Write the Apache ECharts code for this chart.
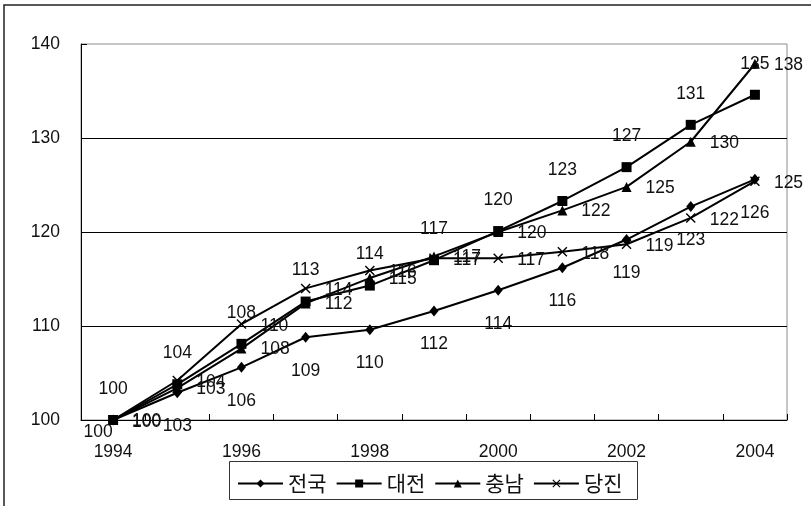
<!DOCTYPE html>
<html>
<head>
<meta charset="utf-8">
<script src="https://cdn.jsdelivr.net/npm/echarts@6/dist/echarts.min.js"></script>
<style>
  html, body { margin: 0; padding: 0; background: #fff; }
  #chart { width: 811px; height: 506px; }
</style>
</head>
<body>
<div id="chart"></div>
<script>
// Index values (1994 = 100)
const years = ['1994', '1995', '1996', '1997', '1998', '1999', '2000', '2001', '2002', '2003', '2004'];
const jeonguk  = [100, 102.9, 105.6, 108.8, 109.6, 111.6, 113.8, 116.2, 119.2, 122.7, 125.6];
const daejeon  = [100, 103.8, 108.1, 112.6, 114.3, 117.0, 120.1, 123.3, 126.9, 131.4, 134.6];
const chungnam = [100, 103.4, 107.6, 112.4, 115.1, 117.4, 120.0, 122.3, 124.8, 129.6, 137.9];
const dangjin  = [100, 104.2, 110.2, 114.0, 115.9, 117.2, 117.2, 117.9, 118.7, 121.5, 125.4];
const names = ['전국', '대전', '충남', '당진'];
const yMin = 100, yMax = 140, yStep = 10;

const digitFont = '"Liberation Sans", Arial, sans-serif';
const hangulFont = '"Noto Sans CJK KR", sans-serif';
const ink = '#111';

// thin filled cross used as the "x" marker
const crossPath = 'path://M0,1L1,0L5,4L9,0L10,1L6,5L10,9L9,10L5,6L1,10L0,9L4,5Z';

function labelStyle(position, distance, offset) {
  return {
    show: true,
    position: position,
    distance: distance,
    offset: offset || [0, 0],
    formatter: p => String(Math.round(p.value)),
    color: ink,
    fontFamily: digitFont,
    fontSize: 17.5
  };
}

function makeSeries(name, values, symbol, size, label, firstLabel) {
  return {
    name: name,
    type: 'line',
    data: values.map((v, i) => (i === 0 && firstLabel) ? { value: v, label: firstLabel } : v),
    symbol: symbol,
    symbolSize: size,
    showAllSymbol: true,
    lineStyle: { color: '#000', width: 2 },
    itemStyle: { color: '#000', borderColor: '#000', borderWidth: 0 },
    label: label,
    emphasis: { disabled: true },
    animation: false
  };
}

const chart = echarts.init(document.getElementById('chart'), null, { renderer: 'canvas' });

chart.setOption({
  backgroundColor: '#fff',
  animation: false,
  grid: {
    left: 81, right: 24, top: 44, bottom: 86,
    outerBoundsMode: 'none',
    show: true,
    borderColor: '#8c8c8c',
    borderWidth: 1
  },
  xAxis: {
    type: 'category',
    data: years,
    boundaryGap: true,
    axisLine: { lineStyle: { color: '#000', width: 1 } },
    axisTick: { show: true, inside: true, length: 6, interval: 0, lineStyle: { color: '#000' } },
    axisLabel: { interval: 1, margin: 23, color: ink, fontFamily: digitFont, fontSize: 17.5 },
    splitLine: { show: false }
  },
  yAxis: {
    type: 'value',
    min: yMin, max: yMax, interval: yStep,
    axisLine: { show: true, lineStyle: { color: '#000', width: 1 } },
    axisTick: { show: true, inside: true, length: 6, lineStyle: { color: '#000' } },
    axisLabel: { margin: 21, color: ink, fontFamily: digitFont, fontSize: 17.5 },
    splitLine: { show: true, showMaxLine: false, lineStyle: { color: '#000', width: 1 } }
  },
  legend: {
    data: names,
    left: 232, top: 468,
    itemWidth: 45, itemHeight: 10, itemGap: 9,
    textStyle: { color: ink, fontFamily: hangulFont, fontSize: 21 },
    selectedMode: false
  },
  graphic: [
    { type: 'rect', silent: true, shape: { x: 4, y: 5, width: 1000, height: 1000 },
      style: { fill: null, stroke: '#222', lineWidth: 1.5 } },
    { type: 'rect', silent: true, shape: { x: 229.5, y: 461.5, width: 408, height: 38 },
      style: { fill: null, stroke: '#333', lineWidth: 1 } }
  ],
  series: [
    makeSeries(names[0], jeonguk, 'diamond', [9, 11], labelStyle('bottom', 19),
      labelStyle('bottom', 19, [-15, -21])),
    makeSeries(names[1], daejeon, 'rect', 10, labelStyle('top', 17)),
    makeSeries(names[2], chungnam, 'triangle', 10, labelStyle('right', 14, [0, 1])),
    makeSeries(names[3], dangjin, crossPath, 10, labelStyle('right', 14, [0, 2]))
  ]
});
</script>
</body>
</html>
